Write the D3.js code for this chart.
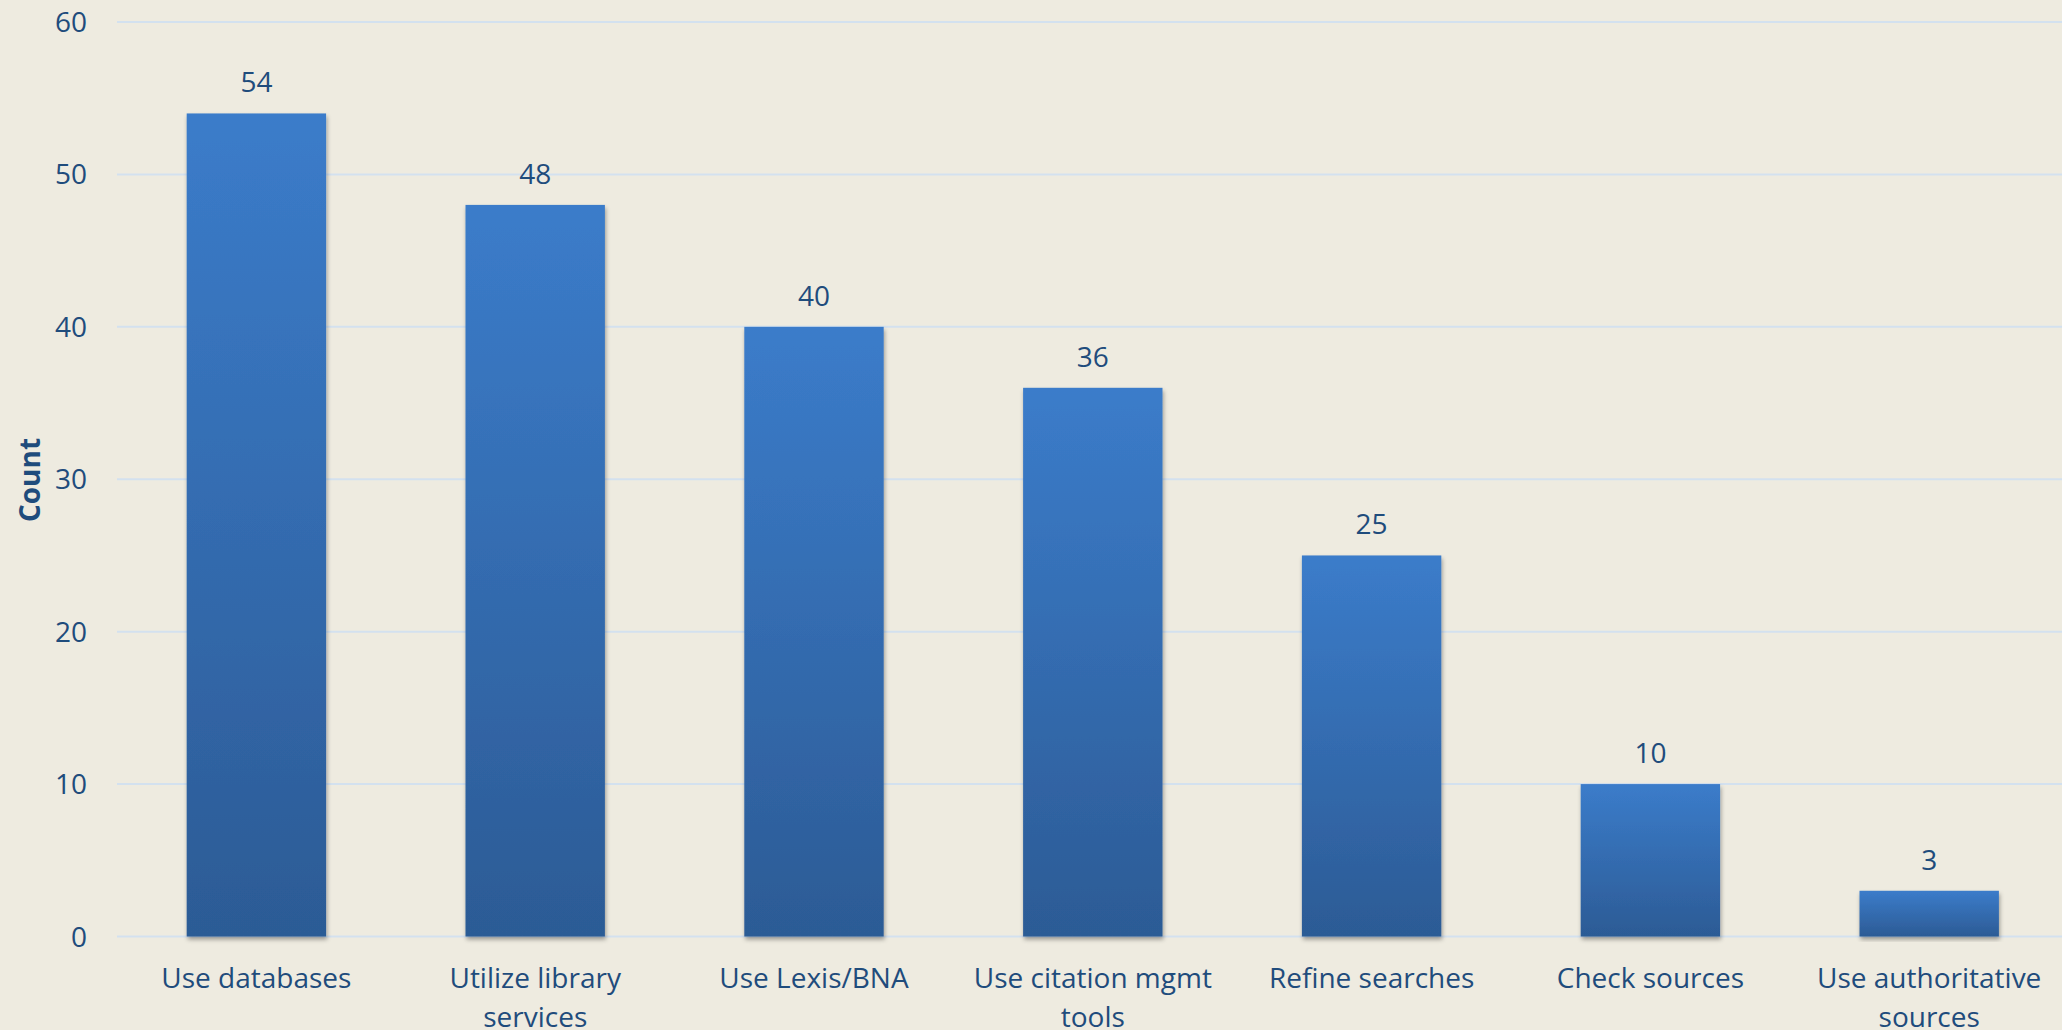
<!DOCTYPE html>
<html>
<head>
<meta charset="utf-8">
<script src="https://cdn.jsdelivr.net/npm/d3@7"></script>
<style>
  html, body { margin: 0; padding: 0; background: #EEEBE0; overflow: hidden; }
  svg { display: block; }
  text { font-family: "Open Sans", "Noto Sans", sans-serif; fill: #1F4C7C; }
</style>
</head>
<body>
<svg id="chart" width="2062" height="1030"></svg>
<script>
const categories = ["Use databases", "Utilize library services", "Use Lexis/BNA", "Use citation mgmt tools", "Refine searches", "Check sources", "Use authoritative sources"];
const counts = [54, 48, 40, 36, 25, 10, 3];
const yTicks = [0, 10, 20, 30, 40, 50, 60];
const yTitle = "Count";

const W = 2062, H = 1030;
const plot = { left: 117, right: 2068.6, top: 22, bottom: 936.5 };

const svg = d3.select("#chart");
svg.append("rect").attr("width", W).attr("height", H).attr("fill", "#EEEBE0");

const defs = svg.append("defs");
const grad = defs.append("linearGradient").attr("id", "barGrad")
  .attr("x1", 0).attr("y1", 0).attr("x2", 0).attr("y2", 1);
grad.append("stop").attr("offset", "0%").attr("stop-color", "#3B7CCA");
grad.append("stop").attr("offset", "100%").attr("stop-color", "#2C5B95");
const shadow = defs.append("filter").attr("id", "shadow")
  .attr("x", "-10%").attr("y", "-10%").attr("width", "120%").attr("height", "120%");
shadow.append("feDropShadow").attr("dx", 1).attr("dy", 3).attr("stdDeviation", 2)
  .attr("flood-color", "#000").attr("flood-opacity", 0.35);

const x = d3.scaleBand().domain(categories).range([plot.left, plot.right])
  .paddingInner(0.5).paddingOuter(0.25);
const y = d3.scaleLinear().domain([0, 60]).range([plot.bottom, plot.top]);

// gridlines
svg.append("g").selectAll("line").data(yTicks).join("line")
  .attr("x1", plot.left).attr("x2", W)
  .attr("y1", d => y(d)).attr("y2", d => y(d))
  .attr("stroke", "#D3E1EF").attr("stroke-width", 2);

// y axis labels
const yAxis = d3.axisLeft(y).tickValues(yTicks).tickSize(0).tickPadding(0);
const gy = svg.append("g").attr("transform", "translate(87,0)").call(yAxis);
gy.select(".domain").remove();
gy.selectAll("text").attr("font-size", 28).attr("fill", "#1F4C7C")
  .attr("font-family", "'Open Sans', sans-serif").attr("dy", "0.34em");

// y title
svg.append("text").attr("transform", "translate(40,480) rotate(-90)")
  .attr("text-anchor", "middle").attr("font-size", 28).attr("font-weight", "bold")
  .text(yTitle);

// bars
const data = categories.map((c, i) => ({ c, v: counts[i] }));
svg.append("g").selectAll("rect").data(data).join("rect")
  .attr("x", d => x(d.c)).attr("width", x.bandwidth())
  .attr("y", d => y(d.v)).attr("height", d => y(0) - y(d.v))
  .attr("fill", "url(#barGrad)").attr("filter", "url(#shadow)");

// value labels
svg.append("g").selectAll("text").data(data).join("text")
  .attr("x", d => x(d.c) + x.bandwidth() / 2).attr("y", d => y(d.v) - 21)
  .attr("text-anchor", "middle").attr("font-size", 28).text(d => d.v);

// x axis labels (wrapped)
const xAxis = d3.axisBottom(x).tickSize(0).tickPadding(0);
const gx = svg.append("g").attr("transform", `translate(0,${plot.bottom})`).call(xAxis);
gx.select(".domain").remove();
gx.selectAll("text").attr("font-size", 28).attr("fill", "#1F4C7C")
  .attr("font-family", "'Open Sans', sans-serif").attr("y", 0).attr("dy", null)
  .each(function (d) {
    const t = d3.select(this);
    const words = d.split(" ");
    const maxW = x.step() * 0.95;
    t.text(null);
    let lines = [], line = [];
    let tspan = t.append("tspan");
    words.forEach(w => {
      line.push(w);
      tspan.text(line.join(" "));
      if (tspan.node().getComputedTextLength() > maxW && line.length > 1) {
        line.pop();
        lines.push(line.join(" "));
        line = [w];
      }
    });
    lines.push(line.join(" "));
    t.text(null);
    lines.forEach((l, i) => {
      t.append("tspan").attr("x", 0).attr("y", 51 + i * 39).text(l);
    });
  });
</script>
</body>
</html>
